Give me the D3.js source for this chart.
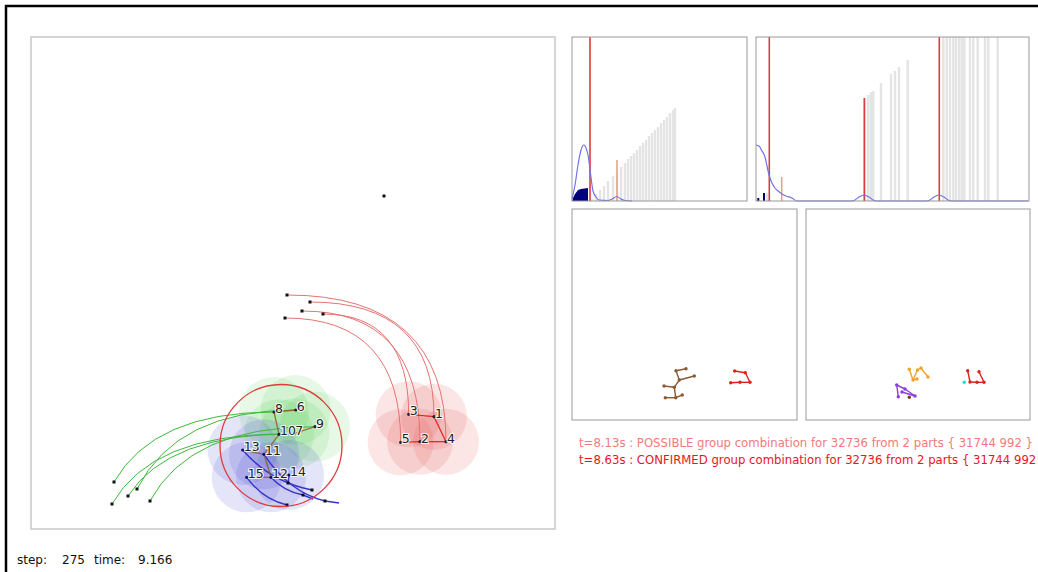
<!DOCTYPE html>
<html>
<head>
<meta charset="utf-8">
<script src="https://cdn.jsdelivr.net/npm/d3@7"></script>
<style>
  body { margin: 0; background: #fff; }
  svg { display: block; }
  text { font-family: 'DejaVu Sans', sans-serif; }
</style>
</head>
<body>
<svg id="canvas" width="1038" height="572"></svg>
<script>
// ---- arena (main panel), units = arena px ----
let nodeIds = [1, 2, 3, 4, 5, 6, 7, 8, 9, 10, 11, 12, 13, 14, 15]
let nodeGroup = ['r', 'r', 'r', 'r', 'r', 'g', 'g', 'g', 'g', 'g', 'b', 'b', 'b', 'b', 'b']
let nodeX = [403, 389, 377.7, 415, 369.7, 264.7, 263.3, 243, 284, 248, 233, 240, 211.7, 258, 215.7]
let nodeY = [379.7, 404.7, 377.3, 404.7, 405.3, 373, 396.5, 375, 389.7, 397.3, 417.3, 440.3, 413, 438, 440.3]
let links = [[3, 1], [1, 4], [5, 2], [2, 4], [8, 6], [8, 10], [10, 7], [10, 11], [7, 9], [11, 13], [11, 12], [12, 15], [12, 14]]
// where each track was first seen
let trailX = [279, 271, 292, 256, 254, 106, 97, 83, 119, 81, 294, 272, 281, 257, 256]
let trailY = [265, 274, 277, 258, 281, 452, 459, 445, 464, 467, 464, 458, 453, 446, 468]
let hookIds = [11, 12]
let hookX = [308, 282]
let hookY = [466, 462]
let loneX = [353]
let loneY = [159]
let groupCircle = { x: 250, y: 408.5, r: 61 }

// ---- histograms ----
let h1GrayX = [20, 24, 28, 32, 36, 41, 45, 49, 53, 56, 59, 62, 65, 68, 71, 74, 77, 80, 83, 86, 89, 92, 95, 98, 101, 103]
let h1GrayH = [2, 7, 11, 15, 20, 25, 30, 34, 38, 42, 45, 48, 51, 55, 58, 61, 65, 68, 71, 74, 78, 81, 84, 88, 91, 93]
let h1RedX = [18, 45]
let h1RedH = [164, 41]
let h1NavyX = [0, 1, 3, 6, 9, 16, 16]
let h1NavyH = [0, 3, 7, 11, 12, 13, 0]
let h1CurveX = [0, 3, 6, 9, 12, 14, 16, 18.7, 21, 24, 27, 36, 40, 44.7, 49, 53, 60]
let h1CurveH = [2, 16, 36, 51, 56, 53, 46, 26, 10, 4, 1, 0.5, 2, 4.5, 2, 0.5, 0]

let h2GrayX = [11, 109, 112.3, 115, 117.3, 125, 135, 139, 143, 151.7,
  187.3, 190.7, 194, 197.3, 200, 203, 205.7, 208.3, 214, 217.3, 221.7, 229, 232.3, 241.7]
let h2GrayH = [8, 103, 106, 109, 110, 118, 127, 130, 134, 141,
  164, 164, 164, 164, 164, 164, 164, 164, 164, 164, 164, 164, 164, 164]
let h2RedX = [13.3, 25.7, 108.3, 183.3]
let h2RedH = [164, 24, 103, 164]
let h2NavyX = [2.3, 8]
let h2NavyH = [3, 8]
let h2CurveX = [0, 3, 6, 9, 11, 13, 16, 19, 22, 26, 30, 36, 41, 95, 99, 103, 108, 113, 117, 121, 170, 174, 178, 183, 188, 192, 196, 272]
let h2CurveH = [56, 55, 50, 44, 35, 26, 18, 13, 10, 7, 5, 3, 0, 0, 1, 4, 6, 4, 1, 0, 0, 1, 4, 6, 4, 1, 0, 0]

// ---- body models ----
let brownX = [104, 114, 107.3, 122.3, 92, 102.3, 110.3, 93.3, 103.7]
let brownY = [161.7, 159.7, 171, 167, 177, 178.3, 186, 188.7, 188.7]
let brownLinks = [[0, 1], [0, 2], [2, 3], [2, 5], [5, 4], [5, 8], [8, 7], [8, 6]]
let redAX = [162.7, 173.3, 178, 168, 158.7]
let redAY = [162, 163.7, 173.3, 173.3, 173.7]
let orangeX = [103.3, 107, 111.5, 115, 122, 111]
let orangeY = [160.3, 171, 161, 159, 168, 170]
let orangeLinks = [[0, 1], [1, 2], [2, 3], [3, 4], [1, 5]]
let purpleX = [90.7, 92.3, 99, 109, 96]
let purpleY = [176, 187.7, 180, 187, 183]
let purpleLinks = [[0, 1], [0, 2], [2, 3], [4, 3]]
let redBX = [161.7, 164, 171, 178, 173]
let redBY = [161.7, 173, 173.3, 173.3, 162.7]

let messages = [
  't=8.13s : POSSIBLE group combination for 32736 from 2 parts { 31744 992 }',
  't=8.63s : CONFIRMED group combination for 32736 from 2 parts { 31744 992 }'
]
let messageColors = ['#f27a7a', '#e8141e']
let statusLabels = ['step:', '275', 'time:', '9.166']

let canvas = d3.select('#canvas')
canvas.append('rect').attr('width', 1038).attr('height', 572).attr('fill', '#fff')
canvas.append('path').attr('d', 'M6,580 L6,6 L1050,6').attr('fill', 'none')
  .attr('stroke', '#000').attr('stroke-width', 2.5)

// ---------- main arena ----------
let xMain = d3.scaleLinear().domain([0, 524]).range([31, 555])
let yMain = d3.scaleLinear().domain([0, 492]).range([37, 529])

canvas.append('rect')
  .attr('x', xMain(0)).attr('y', yMain(0))
  .attr('width', xMain(524) - xMain(0)).attr('height', yMain(492) - yMain(0))
  .attr('fill', 'none').attr('stroke', '#c8c8c8').attr('stroke-width', 1.5)

let arena = canvas.append('g')
let groupFill = { r: 'rgba(225,70,70,0.14)', g: 'rgba(70,200,70,0.13)', b: 'rgba(70,70,215,0.14)' }
let trailColor = { r: '#e57272', g: '#3cb83c', b: '#3535c8' }
let idx = (id) => nodeIds.indexOf(id)

arena.selectAll('circle.zone')
  .data(nodeIds.map((d, i) => i))
  .enter()
  .append('circle')
  .attr('class', 'zone')
  .attr('cx', (i) => xMain(nodeX[i]))
  .attr('cy', (i) => yMain(nodeY[i]))
  .attr('r', (i) => nodeGroup[i] === 'r' ? 33 : 35)
  .attr('fill', (i) => groupFill[nodeGroup[i]])

let trailPath = (i) => {
  let p = d3.path()
  let sx = xMain(trailX[i]), sy = yMain(trailY[i])
  let ex = xMain(nodeX[i]), ey = yMain(nodeY[i])
  if (nodeGroup[i] === 'r') {
    p.moveTo(sx, sy)
    p.quadraticCurveTo(ex, sy, ex, ey)
  } else if (nodeGroup[i] === 'g') {
    p.moveTo(sx, sy)
    p.quadraticCurveTo(sx + 40, ey, ex, ey)
  } else {
    p.moveTo(ex, ey)
    p.quadraticCurveTo(ex + 0.4 * (sx - ex), ey + 0.8 * (sy - ey), sx, sy)
    let h = hookIds.indexOf(nodeIds[i])
    if (h >= 0) p.lineTo(xMain(hookX[h]), yMain(hookY[h]))
  }
  return p.toString()
}

arena.selectAll('path.trail')
  .data(nodeIds.map((d, i) => i))
  .enter()
  .append('path')
  .attr('class', 'trail')
  .attr('d', trailPath)
  .attr('fill', 'none')
  .attr('stroke', (i) => trailColor[nodeGroup[i]])
  .attr('stroke-width', (i) => nodeGroup[i] === 'b' ? 1.4 : 1)

arena.selectAll('rect.mark')
  .data(trailX.map((d, i) => [d, trailY[i]]).concat(loneX.map((d, i) => [d, loneY[i]])))
  .enter()
  .append('rect')
  .attr('class', 'mark')
  .attr('x', (d) => xMain(d[0]) - 1.5)
  .attr('y', (d) => yMain(d[1]) - 1.5)
  .attr('width', 3).attr('height', 3)
  .attr('fill', '#111')

arena.append('circle')
  .attr('cx', xMain(groupCircle.x)).attr('cy', yMain(groupCircle.y))
  .attr('r', groupCircle.r)
  .attr('fill', 'none').attr('stroke', '#e23a3a').attr('stroke-width', 1.3)

arena.selectAll('line.link')
  .data(links)
  .enter()
  .append('line')
  .attr('class', 'link')
  .attr('x1', (d) => xMain(nodeX[idx(d[0])]))
  .attr('y1', (d) => yMain(nodeY[idx(d[0])]))
  .attr('x2', (d) => xMain(nodeX[idx(d[1])]))
  .attr('y2', (d) => yMain(nodeY[idx(d[1])]))
  .attr('stroke', (d) => nodeGroup[idx(d[0])] === 'r' ? '#e02828' : 'rgba(140,90,40,0.85)')
  .attr('stroke-width', 1.3)

arena.selectAll('circle.node')
  .data(nodeIds.map((d, i) => i))
  .enter()
  .append('circle')
  .attr('class', 'node')
  .attr('cx', (i) => xMain(nodeX[i]))
  .attr('cy', (i) => yMain(nodeY[i]))
  .attr('r', 1.6)
  .attr('fill', (i) => nodeGroup[i] === 'b' ? '#101060' : '#222')

// labels drawn left to right so a right neighbour is not hidden by the halo
let labelOrder = nodeIds.map((d, i) => i).sort((a, b) => nodeX[a] - nodeX[b])
arena.selectAll('text.label')
  .data(labelOrder)
  .enter()
  .append('text')
  .attr('class', 'label')
  .attr('x', (i) => xMain(nodeX[i]) + 1)
  .attr('y', (i) => yMain(nodeY[i]) + 1)
  .attr('font-size', 12.5)
  .attr('fill', '#222')
  .attr('stroke', '#fff')
  .attr('stroke-width', 2.2)
  .attr('stroke-opacity', 0.85)
  .attr('paint-order', 'stroke')
  .text((i) => nodeIds[i])

// ---------- histograms ----------
let drawHist = (cfg) => {
  let x = d3.scaleLinear().domain([0, cfg.w]).range([cfg.ox, cfg.ox + cfg.w])
  let y = d3.scaleLinear().domain([0, 164]).range([201, 37])
  let g = canvas.append('g')
  g.selectAll('rect.gray')
    .data(cfg.grayX)
    .enter()
    .append('rect')
    .attr('x', (d) => x(d) - 1.2)
    .attr('y', (d, i) => y(cfg.grayH[i]))
    .attr('width', 2.4)
    .attr('height', (d, i) => y(0) - y(cfg.grayH[i]))
    .attr('fill', '#e4e4e4')
  g.selectAll('line.red')
    .data(cfg.redX)
    .enter()
    .append('line')
    .attr('x1', (d) => x(d)).attr('x2', (d) => x(d))
    .attr('y1', y(0))
    .attr('y2', (d, i) => y(cfg.redH[i]))
    .attr('stroke', (d, i) => cfg.redH[i] >= 100 ? '#dc3c3c' : '#eba08e')
    .attr('stroke-width', 1.6)
  if (cfg.navyArea) {
    g.append('path')
      .datum(cfg.navyX.map((d, i) => [d, cfg.navyH[i]]))
      .attr('d', d3.line().x((d) => x(d[0])).y((d) => y(d[1])).curve(d3.curveLinear))
      .attr('fill', '#00007a')
  } else {
    g.selectAll('rect.navy')
      .data(cfg.navyX)
      .enter()
      .append('rect')
      .attr('x', (d) => x(d) - 1)
      .attr('y', (d, i) => y(cfg.navyH[i]))
      .attr('width', 2)
      .attr('height', (d, i) => y(0) - y(cfg.navyH[i]))
      .attr('fill', '#00007a')
  }
  g.append('path')
    .datum(cfg.curveX.map((d, i) => [d, cfg.curveH[i]]))
    .attr('d', d3.line().x((d) => x(d[0])).y((d) => y(d[1])).curve(d3.curveMonotoneX))
    .attr('fill', 'none')
    .attr('stroke', '#7272e6')
    .attr('stroke-width', 1.2)
  g.append('rect')
    .attr('x', x(0)).attr('y', y(164))
    .attr('width', x(cfg.w) - x(0)).attr('height', y(0) - y(164))
    .attr('fill', 'none').attr('stroke', '#999').attr('stroke-width', 1)
}

drawHist({ ox: 572, w: 175, grayX: h1GrayX, grayH: h1GrayH, redX: h1RedX, redH: h1RedH,
  navyX: h1NavyX, navyH: h1NavyH, navyArea: true, curveX: h1CurveX, curveH: h1CurveH })
drawHist({ ox: 756, w: 273, grayX: h2GrayX, grayH: h2GrayH, redX: h2RedX, redH: h2RedH,
  navyX: h2NavyX, navyH: h2NavyH, navyArea: false, curveX: h2CurveX, curveH: h2CurveH })

// ---------- body model panels ----------
let drawModel = (g, sx, sy, xs, ys, pairs, color) => {
  g.selectAll(null)
    .data(pairs)
    .enter()
    .append('line')
    .attr('x1', (d) => sx(xs[d[0]])).attr('y1', (d) => sy(ys[d[0]]))
    .attr('x2', (d) => sx(xs[d[1]])).attr('y2', (d) => sy(ys[d[1]]))
    .attr('stroke', color).attr('stroke-width', 1.4)
  g.selectAll(null)
    .data(xs)
    .enter()
    .append('circle')
    .attr('cx', (d) => sx(d)).attr('cy', (d, i) => sy(ys[i]))
    .attr('r', 1.7).attr('fill', color)
}
let chain = (n) => d3.range(n - 1).map((i) => [i, i + 1])

let panelA = { ox: 572, w: 225 }
let panelB = { ox: 806, w: 224 }
;[panelA, panelB].forEach((p) => {
  p.x = d3.scaleLinear().domain([0, p.w]).range([p.ox, p.ox + p.w])
  p.y = d3.scaleLinear().domain([0, 211]).range([209, 420])
  p.g = canvas.append('g')
  p.g.append('rect')
    .attr('x', p.x(0)).attr('y', p.y(0))
    .attr('width', p.x(p.w) - p.x(0)).attr('height', p.y(211) - p.y(0))
    .attr('fill', 'none').attr('stroke', '#999').attr('stroke-width', 1)
})

drawModel(panelA.g, panelA.x, panelA.y, brownX, brownY, brownLinks, '#8c5a30')
drawModel(panelA.g, panelA.x, panelA.y, redAX, redAY, chain(redAX.length), '#e41e1e')
drawModel(panelB.g, panelB.x, panelB.y, orangeX, orangeY, orangeLinks, '#f0a22a')
drawModel(panelB.g, panelB.x, panelB.y, purpleX, purpleY, purpleLinks, '#8a3ee0')
drawModel(panelB.g, panelB.x, panelB.y, redBX, redBY, chain(redBX.length), '#e41e1e')
drawModel(panelB.g, panelB.x, panelB.y, [103.3], [188.3], [], '#7a3a2a')
drawModel(panelB.g, panelB.x, panelB.y, [158.3], [173.3], [], '#18dede')

// ---------- messages ----------
canvas.selectAll('text.msg')
  .data(messages)
  .enter()
  .append('text')
  .attr('class', 'msg')
  .attr('x', 579)
  .attr('y', (d, i) => 447 + i * 17)
  .attr('font-family', "'DejaVu Sans Condensed', 'DejaVu Sans', sans-serif")
  .attr('font-size', 11.7)
  .attr('fill', (d, i) => messageColors[i])
  .text((d) => d)

let statusX = [17, 62, 94, 138]
canvas.selectAll('text.status')
  .data(statusLabels)
  .enter()
  .append('text')
  .attr('class', 'status')
  .attr('x', (d, i) => statusX[i])
  .attr('y', 564)
  .attr('font-size', 12)
  .attr('fill', '#111')
  .text((d) => d)
</script>
</body>
</html>
